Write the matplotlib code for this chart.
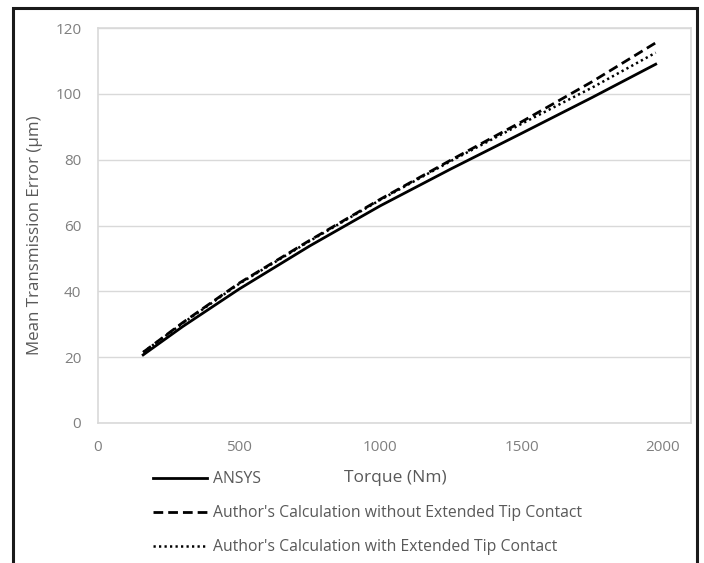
import matplotlib
matplotlib.use("Agg")
import matplotlib.pyplot as plt
from matplotlib.patches import Rectangle

torque = [160, 300, 500, 750, 1000, 1250, 1500, 1750, 1975]
ansys = [20.7, 29.3, 40.7, 53.8, 66.0, 77.2, 88.0, 98.9, 109.0]
without_tip = [21.5, 30.5, 42.5, 55.5, 68.0, 79.9, 91.5, 103.7, 115.5]
with_tip = [21.5, 30.3, 42.3, 55.3, 67.8, 79.6, 90.9, 101.9, 112.5]

x_ticks = [0, 500, 1000, 1500, 2000]
y_ticks = [0, 20, 40, 60, 80, 100, 120]

plt.rcParams['font.family'] = ['Open Sans', 'DejaVu Sans']

W, H = 704, 563
fig = plt.figure(figsize=(W / 100, H / 100), dpi=100)
ax = fig.add_axes([98 / W, 1 - 423 / H, 593 / W, 395 / H])

ax.plot(torque, ansys, color='black', lw=2.0, ls='-', label='ANSYS')
ax.plot(torque, without_tip, color='black', lw=2.0, ls=(0, (3.5, 1.8)),
        label="Author's Calculation without Extended Tip Contact")
ax.plot(torque, with_tip, color='black', lw=1.8, ls=(0, (0.9, 1.3)),
        label="Author's Calculation with Extended Tip Contact")

ax.set_xlim(0, 2100)
ax.set_ylim(0, 120)
ax.set_xticks(x_ticks)
ax.set_yticks(y_ticks)
ax.grid(True, axis='y', color='#d9d9d9', lw=1)
ax.set_axisbelow(True)
for s in ax.spines.values():
    s.set_color('#d9d9d9')
    s.set_linewidth(1.2)
ax.tick_params(length=0, colors='#7f7f7f', labelsize=11)
ax.tick_params(axis='y', pad=12)
ax.tick_params(axis='x', pad=12)

fig.text(35 / W, 1 - 235 / H, 'Mean Transmission Error (μm)', rotation=90,
         ha='center', va='center', color='#595959', fontsize=12.2)
fig.text(395 / W, 1 - 478 / H, 'Torque (Nm)', ha='center', va='center',
         color='#595959', fontsize=12.5)

leg = fig.legend(loc='upper left', bbox_to_anchor=(153 / W, 1 - 471 / H),
                 frameon=False, fontsize=11.3, handlelength=3.44,
                 handletextpad=0.38, labelspacing=1.15, borderpad=0,
                 borderaxespad=0)
for t in leg.get_texts():
    t.set_color('#595959')

fig.patches.append(Rectangle((13 / W, -0.05), (697 - 13) / W, 1 - 8 / H + 0.05,
                             transform=fig.transFigure, fill=False,
                             edgecolor='#1a1a1a', lw=2.2))

fig.savefig('out.png', dpi=100)
